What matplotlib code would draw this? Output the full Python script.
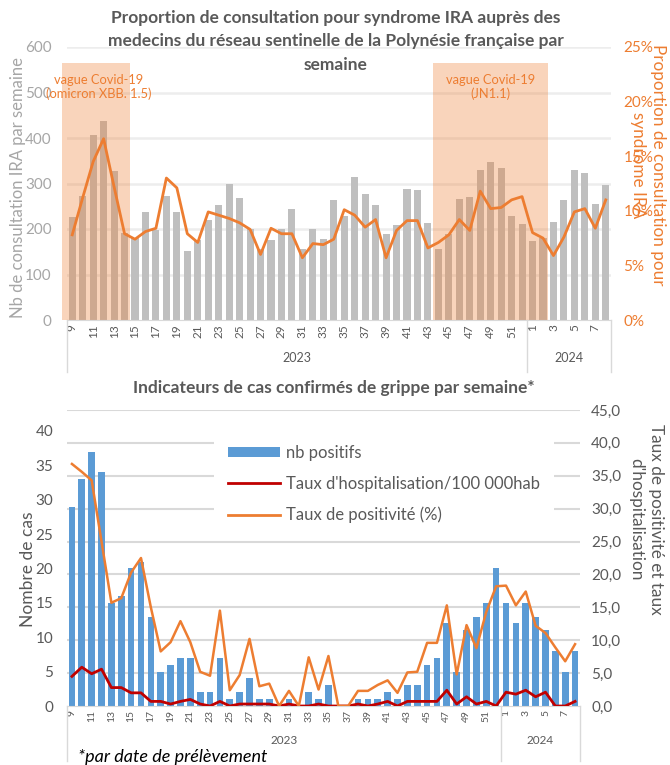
import matplotlib
matplotlib.use('Agg')
import matplotlib.pyplot as plt
from matplotlib.patches import Rectangle, Patch
from matplotlib.lines import Line2D
from matplotlib.transforms import blended_transform_factory
from matplotlib.ticker import FuncFormatter
import numpy as np

plt.rcParams['font.family'] = ['Lato', 'DejaVu Sans']

# ---------------- data ----------------
weeks = list(range(9, 53)) + list(range(1, 9))
years = ['2023'] * 44 + ['2024'] * 8

ira_counts = [226, 273, 407, 438, 328, 192, 180, 237, 198, 273,
              238, 151, 175, 220, 253, 299, 268, 201, 157, 176,
              199, 243, 157, 199, 177, 263, 229, 314, 278, 252,
              189, 209, 287, 285, 213, 156, 189, 266, 271, 330,
              347, 333, 228, 210,
              173, 181, 215, 263, 330, 324, 256, 297]
ira_pct = [7.8, 11.2, 14.5, 16.6, 12.2, 7.9, 7.4, 8.1, 8.4, 13.0,
           12.1, 7.9, 7.1, 9.9, 9.6, 9.3, 8.9, 8.3, 6.0, 8.4,
           7.9, 7.9, 5.7, 7.0, 6.9, 7.4, 10.1, 9.6, 8.5, 9.2,
           5.7, 8.2, 9.1, 9.1, 6.6, 7.1, 7.8, 9.2, 8.2, 11.8,
           10.2, 10.3, 11.0, 11.3,
           8.0, 7.5, 5.9, 7.6, 9.9, 10.2, 8.4, 11.0]

# covid waves: (label, (year, week) start, (year, week) end)
waves = [("vague Covid-19\n(omicron XBB. 1.5)", ('2023', 9), ('2023', 14)),
         ("vague Covid-19\n(JN1.1)", ('2023', 44), ('2024', 2))]

pos_counts = [29, 33, 37, 34, 15, 16, 20, 21, 13, 5,
              6, 7, 7, 2, 2, 7, 1, 2, 4, 1,
              1, 0, 1, 0, 2, 1, 3, 0, 0, 1,
              1, 1, 2, 1, 3, 3, 6, 7, 12, 5,
              11, 13, 15, 20,
              15, 12, 15, 13, 11, 8, 5, 8]
positivity = [36.8, 35.6, 34.3, 25.0, 15.7, 16.4, 20.3, 22.5, 15.0, 8.3,
              9.7, 12.9, 9.7, 5.2, 4.6, 14.5, 2.4, 4.7, 10.2, 3.0,
              3.4, 0.0, 2.3, 0.0, 7.4, 2.5, 7.6, 0.0, 0.0, 2.3,
              2.3, 3.2, 3.9, 2.0, 5.1, 5.2, 9.6, 9.6, 15.3, 4.8,
              12.3, 8.8, 14.3, 18.2,
              18.3, 15.3, 17.4, 12.2, 11.1, 8.9, 6.8, 9.4]
hosp_rate = [4.5, 5.9, 4.9, 5.6, 2.8, 2.8, 2.0, 2.0, 0.7, 0.7,
             0.3, 0.7, 1.0, 0.3, 0.0, 0.7, 0.0, 0.3, 0.3, 0.3,
             0.3, 0.0, 0.3, 0.0, 0.0, 0.3, 0.0, 0.0, 0.0, 0.3,
             0.0, 0.3, 0.7, 0.0, 0.7, 0.7, 0.7, 0.7, 2.4, 0.3,
             1.4, 0.3, 0.7, 0.0,
             2.1, 1.8, 2.4, 1.4, 2.1, 0.0, 0.0, 0.7]

# ---------------- style ----------------
GREY_BAR = '#BFBFBF'
ORANGE = '#ED7D31'
BLUE = '#5B9BD5'
RED = '#C00000'
DARK = '#595959'
LIGHT = '#A6A6A6'

W, H = 670, 765
fig = plt.figure(figsize=(W / 100, H / 100), dpi=100)


def box(l, t, r, b):
    return [l / W, 1 - b / H, (r - l) / W, (b - t) / H]


x = np.arange(len(weeks))
tick_labels = [str(w) if w % 2 == 1 else '' for w in weeks]


def idx_of(yw):
    for i, (yy, ww) in enumerate(zip(years, weeks)):
        if yy == yw[0] and ww == yw[1]:
            return i
    return 0


def year_groups(ax, ylab, ysep, fs):
    trans = blended_transform_factory(ax.transData, ax.transAxes)
    uniq = []
    for yy in years:
        if yy not in uniq:
            uniq.append(yy)
    bounds = [-0.5]
    for yy in uniq:
        ids = [i for i, v in enumerate(years) if v == yy]
        ax.text((ids[0] + ids[-1]) / 2, ylab, yy, transform=trans,
                ha='center', va='center', fontsize=fs, color=DARK)
        bounds.append(ids[-1] + 0.5)
    for b in bounds:
        ax.plot([b, b], [0, ysep], transform=trans, color='#D9D9D9',
                lw=1.0, clip_on=False)


# ================= TOP CHART =================
ax = fig.add_axes(box(67, 47, 611, 320))
ax.bar(x, ira_counts, width=0.68, color=GREY_BAR, zorder=2)
ax.set_xlim(-0.5, len(weeks) - 0.5)
ax.set_ylim(0, 600)
ax.set_yticks(range(0, 601, 100))
for v in range(100, 601, 100):
    ax.axhline(v, color='#EDEDED', lw=1.8, zorder=0)
for s in ['top', 'right', 'left']:
    ax.spines[s].set_visible(False)
ax.spines['bottom'].set_color('#D9D9D9')
ax.tick_params(axis='y', length=0, labelsize=11, labelcolor=LIGHT, pad=11)
ax.set_xticks(x)
ax.set_xticklabels(tick_labels, rotation=90, fontsize=8.5, color=DARK)
ax.tick_params(axis='x', length=0, pad=3)
year_groups(ax, -0.14, -0.19, 9)

for label, s, e in waves:
    i0, i1 = idx_of(s), idx_of(e)
    left = i0 - 0.5 - (0.45 if i0 == 0 else 0.0)
    ax.add_patch(Rectangle((left, 0), i1 + 0.5 - left, 565, facecolor=ORANGE,
                           alpha=0.33, edgecolor='none', zorder=2.5, clip_on=False))
    ax.text((i0 + i1) / 2, 512, label, ha='center', va='center', fontsize=9.3,
            color=ORANGE, zorder=4, linespacing=1.2)

ax2 = ax.twinx()
ax2.plot(x, ira_pct, color=ORANGE, lw=2.0, zorder=3)
ax2.set_ylim(0, 25)
ax2.set_yticks(range(0, 26, 5))
ax2.yaxis.set_major_formatter(FuncFormatter(lambda v, p: f"{int(v)}%"))
ax2.tick_params(axis='y', length=0, labelsize=11, labelcolor=ORANGE, pad=9)
for s in ['top', 'right', 'left', 'bottom']:
    ax2.spines[s].set_visible(False)

fig.text(336 / W, 1 - 10 / H,
         "Proportion de consultation pour syndrome IRA auprès des\n"
         "medecins du réseau sentinelle de la Polynésie française par\n"
         "semaine",
         ha='center', va='top', fontsize=12.5, fontweight='bold', color=DARK,
         linespacing=1.56)
fig.text(18 / W, 1 - 188 / H, "Nb de consultation IRA par semaine",
         rotation=90, ha='center', va='center', fontsize=12, color=LIGHT)
fig.text(648 / W, 1 - 165 / H, "Proportion de consultation pour\nsyndrome IRA",
         rotation=270, ha='center', va='center', multialignment='center',
         fontsize=12.3, color=ORANGE, linespacing=1.35)

# ================= BOTTOM CHART =================
ax3 = fig.add_axes(box(67, 410, 580, 706))
ax4 = ax3.twinx()
ax3.bar(x, pos_counts, width=0.68, color=BLUE, zorder=2)
ax3.set_xlim(-0.5, len(weeks) - 0.5)
ax3.set_ylim(0, 43.05)
ax3.set_yticks(range(0, 41, 5))
ax3.tick_params(axis='y', length=0, labelsize=11, labelcolor=DARK, pad=10)
ax3.set_xticks(x)
ax3.set_xticklabels(tick_labels, rotation=90, fontsize=7.5, color=DARK)
ax3.tick_params(axis='x', length=0, pad=3)
for s in ['top', 'right', 'left']:
    ax3.spines[s].set_visible(False)
ax3.spines['bottom'].set_color('#D9D9D9')

ax4.plot(x, hosp_rate, color=RED, lw=2.0, zorder=3)
ax4.plot(x, positivity, color=ORANGE, lw=1.8, zorder=3)
ax4.set_ylim(0, 45)
ax4.set_yticks(range(0, 46, 5))
ax4.yaxis.set_major_formatter(FuncFormatter(lambda v, p: f"{v:.1f}".replace('.', ',')))
ax4.tick_params(axis='y', length=0, labelsize=11, labelcolor=DARK, pad=8)
for s in ['top', 'right', 'left', 'bottom']:
    ax4.spines[s].set_visible(False)

gtrans = blended_transform_factory(ax3.transAxes, ax4.transData)
for g in range(5, 46, 5):
    ax3.plot([0, 1], [g, g], transform=gtrans, color='#D9D9D9', lw=1.5, zorder=0)
ax3.set_ylim(0, 43.05)

year_groups(ax3, -0.115, -0.185, 8.5)

handles = [Patch(facecolor=BLUE, edgecolor='none'),
           Line2D([], [], color=RED, lw=2.0),
           Line2D([], [], color=ORANGE, lw=2.0)]
labels = ["nb positifs", "Taux d'hospitalisation/100 000hab", "Taux de positivité (%)"]
leg = ax4.legend(handles, labels, loc='upper left', bbox_to_anchor=(0.2865, 0.93),
                 frameon=True, facecolor='white', edgecolor='none', framealpha=1,
                 fontsize=12, handlelength=3.1, handleheight=0.55, labelspacing=0.9,
                 handletextpad=0.36, borderpad=0.85, borderaxespad=0, labelcolor=DARK)
leg.set_zorder(10)

fig.text(334 / W, 1 - 388 / H, "Indicateurs de cas confirmés de grippe par semaine*",
         ha='center', va='center', fontsize=12.5, fontweight='bold', color=DARK)
fig.text(28 / W, 1 - 569 / H, "Nombre de cas", rotation=90, ha='center',
         va='center', fontsize=12.5, color=DARK)
fig.text(646 / W, 1 - 519 / H, "Taux de positivité et taux\nd'hospitalisation",
         rotation=270, ha='center', va='center', multialignment='center',
         fontsize=12.4, color=DARK, linespacing=1.3)
fig.text(78 / W, 1 - 757 / H, "*par date de prélèvement", style='italic',
         ha='left', va='center', fontsize=13, color='black')

fig.savefig('out.png', dpi=100)
